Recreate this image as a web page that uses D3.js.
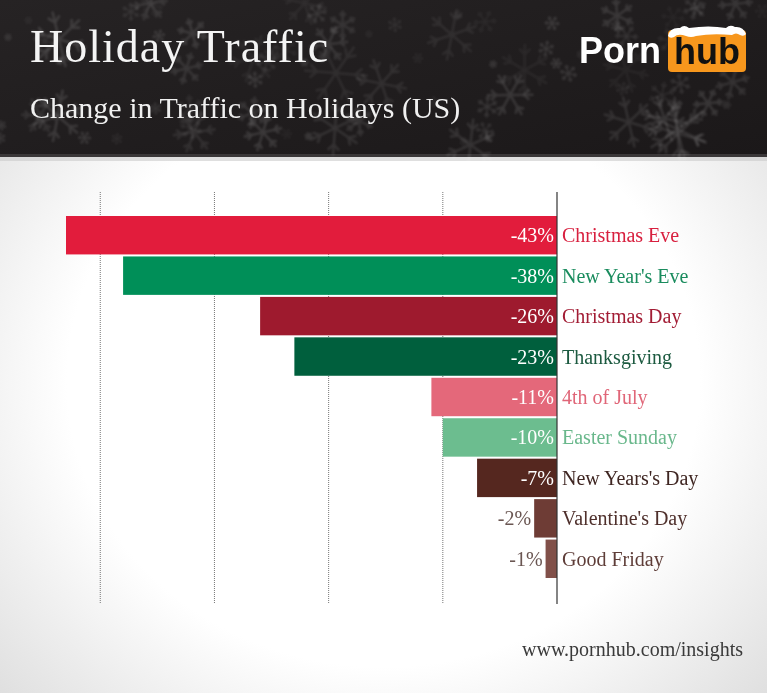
<!DOCTYPE html>
<html><head><meta charset="utf-8">
<script src="https://cdn.jsdelivr.net/npm/d3@7"></script>
<style>html,body{margin:0;padding:0;background:#fff;overflow:hidden}</style>
</head><body><div id="chart"></div>
<script>
const categories = ["Christmas Eve","New Year's Eve","Christmas Day","Thanksgiving","4th of July","Easter Sunday","New Years's Day","Valentine's Day","Good Friday"];
const values = [-43,-38,-26,-23,-11,-10,-7,-2,-1];
const barColors = ["#e21c3c","#008f58","#9e1a2e","#005f3d","#e4687a","#6cbd8f","#55271f","#6e3c35","#815049"];
const labelColors = ["#d8203f","#1a8c5e","#a21c34","#1c5a40","#e06678","#6ab88c","#3f2622","#4f302c","#5e3d38"];
const gridTicks = [-40,-30,-20,-10];
const title = "Holiday Traffic";
const subtitle = "Change in Traffic on Holidays (US)";
const footer = "www.pornhub.com/insights";

const W = 767, H = 693;
const svg = d3.select("#chart").append("svg").attr("width", W).attr("height", H);
const defs = svg.append("defs");

// page background: white with grey vignette
const rg = defs.append("radialGradient").attr("id","bg").attr("cx","50%").attr("cy","55%").attr("r","75%");
rg.append("stop").attr("offset","55%").attr("stop-color","#ffffff");
rg.append("stop").attr("offset","100%").attr("stop-color","#d6d6d6");
svg.append("rect").attr("width",W).attr("height",H).attr("fill","url(#bg)");

// header
const hg = defs.append("linearGradient").attr("id","hdr").attr("x1",0).attr("x2",1).attr("y1",0).attr("y2",1);
hg.append("stop").attr("offset","0%").attr("stop-color","#262324");
hg.append("stop").attr("offset","100%").attr("stop-color","#1b1819");
svg.append("rect").attr("width",W).attr("height",156).attr("fill","url(#hdr)");
svg.append("rect").attr("y",154).attr("width",W).attr("height",3).attr("fill","#3a3738");
svg.append("rect").attr("y",157).attr("width",W).attr("height",4).attr("fill","#c9c9c9").attr("opacity",0.6);

defs.append("filter").attr("id","blur").append("feGaussianBlur").attr("stdDeviation",0.9);

// decorative snowflakes (deterministic)
let seed = 7;
const rnd = () => { seed = (seed * 16807) % 2147483647; return (seed - 1) / 2147483646; };
const flakes = svg.append("g").attr("stroke","#ffffff").attr("fill","none").attr("filter","url(#blur)");
for (let i = 0; i < 80; i++) {
  const cx = rnd()*W, cy = rnd()*150, r = 4 + rnd()*rnd()*30, op = 0.04 + rnd()*0.09;
  const g = flakes.append("g").attr("transform",`translate(${cx},${cy}) rotate(${rnd()*60})`).attr("opacity",op).attr("stroke-width", r>14?2.5:1.5);
  for (let k = 0; k < 6; k++) {
    const a = k*Math.PI/3;
    const x2 = Math.cos(a)*r, y2 = Math.sin(a)*r;
    g.append("line").attr("x1",0).attr("y1",0).attr("x2",x2).attr("y2",y2);
    const bx = Math.cos(a)*r*0.6, by = Math.sin(a)*r*0.6;
    [-1,1].forEach(s => {
      const b = a + s*Math.PI/4;
      g.append("line").attr("x1",bx).attr("y1",by).attr("x2",bx+Math.cos(b)*r*0.3).attr("y2",by+Math.sin(b)*r*0.3);
    });
  }
}

svg.append("text").attr("x",30).attr("y",62).text(title)
  .attr("font-family","Liberation Serif, serif").attr("font-size",46).attr("fill","#f4f4f4").attr("letter-spacing",1);
svg.append("text").attr("x",30).attr("y",118).text(subtitle)
  .attr("font-family","Liberation Serif, serif").attr("font-size",30).attr("fill","#f0f0f0");

// logo
const logo = svg.append("g");
logo.append("text").attr("x",579).attr("y",63).text("Porn")
  .attr("font-family","Liberation Sans, Arial, sans-serif").attr("font-weight","bold").attr("font-size",36).attr("fill","#ffffff");
logo.append("rect").attr("x",668).attr("y",30).attr("width",78).attr("height",42).attr("rx",4).attr("fill","#f7971d");
logo.append("path").attr("d","M668,36 q2,-9 12,-8 q4,-4 9,0 q20,-3 37,0 q4,-4 9,-1 q8,-1 11,7 q-2,3 -6,1 q-4,-3 -8,0 q-20,-2 -36,1 q-5,2 -10,0 q-8,-3 -12,1 q-4,2 -6,-1z")
  .attr("fill","#ffffff");
logo.append("text").attr("x",707).attr("y",64).attr("text-anchor","middle").text("hub")
  .attr("font-family","Liberation Sans, Arial, sans-serif").attr("font-weight","bold").attr("font-size",36).attr("fill","#111");

// scales
const x = d3.scaleLinear().domain([-43, 0]).range([66, 557]);
const y = d3.scaleBand().domain(categories).range([216, 578]).paddingInner(0.05).paddingOuter(0);

// gridlines
svg.append("g").selectAll("line").data(gridTicks).join("line")
  .attr("x1",d=>x(d)).attr("x2",d=>x(d)).attr("y1",192).attr("y2",604)
  .attr("stroke","#777").attr("stroke-width",1).attr("stroke-dasharray","1,1");

// bars
svg.append("g").selectAll("rect").data(values).join("rect")
  .attr("x",d=>x(d)).attr("width",d=>x(0)-x(d))
  .attr("y",(d,i)=>y(categories[i])).attr("height",y.bandwidth())
  .attr("fill",(d,i)=>barColors[i]);

// zero line
svg.append("line").attr("x1",x(0)).attr("x2",x(0)).attr("y1",192).attr("y2",604)
  .attr("stroke","#333").attr("stroke-width",1.2);

// value labels
const fmt = d => d + "%";
svg.append("g").selectAll("text").data(values).join("text")
  .attr("x",d => (x(0)-x(d)) > 50 ? x(0)-3 : x(d)-3)
  .attr("y",(d,i)=>y(categories[i]) + y.bandwidth()/2 + 7)
  .attr("text-anchor","end")
  .attr("font-family","Liberation Serif, serif").attr("font-size",20)
  .attr("fill",d => (x(0)-x(d)) > 50 ? "#ffffff" : "#6a5652")
  .text(fmt);

// category labels
svg.append("g").selectAll("text").data(categories).join("text")
  .attr("x",x(0)+5)
  .attr("y",d=>y(d) + y.bandwidth()/2 + 7)
  .attr("font-family","Liberation Serif, serif").attr("font-size",20)
  .attr("fill",(d,i)=>labelColors[i])
  .text(d=>d);

// footer
svg.append("text").attr("x",743).attr("y",656).attr("text-anchor","end").text(footer)
  .attr("font-family","Liberation Serif, serif").attr("font-size",20).attr("fill","#3a3a3a");
</script></body></html>
